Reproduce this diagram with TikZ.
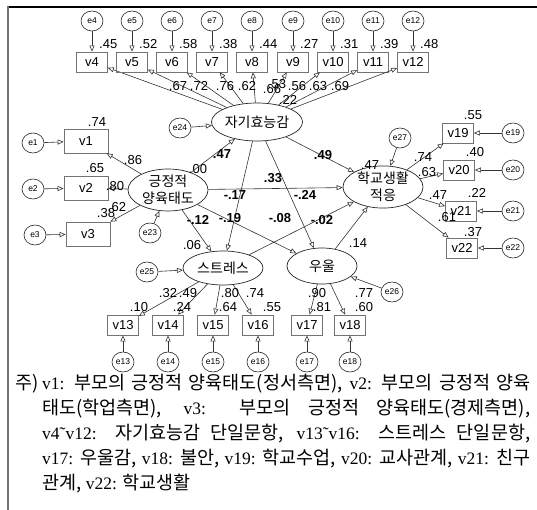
\documentclass[tikz,border=0pt]{standalone}
\usepackage{fontspec}
\setmainfont{Liberation Serif}
\newfontfamily\sansf{Liberation Sans}
\newfontfamily\kr{Noto Sans CJK KR}
\usetikzlibrary{arrows.meta,shapes.geometric}

\tikzset{
  obs/.style={draw=black!55, line width=0.7pt, minimum width=31pt, minimum height=20pt,
    inner sep=0pt, font=\sansf\fontsize{13}{13}\selectfont},
  obsw/.style={obs, minimum width=44pt, minimum height=24pt},
  lat/.style={draw=black!85, line width=0.7pt, ellipse, inner sep=0pt, align=center,
    font=\kr\fontsize{14}{17}\selectfont},
  err/.style={draw=black!85, line width=0.6pt, ellipse, minimum width=22pt, minimum height=20pt,
    inner sep=0pt, font=\sansf\fontsize{8.5}{8.5}\selectfont},
  arr/.style={draw=black!80, line width=0.6pt, -{Triangle[open,length=6pt,width=5pt]}},
  lab/.style={inner sep=0pt, font=\sansf\fontsize{13}{13}\selectfont},
  blab/.style={lab, font=\sansf\bfseries\fontsize{13}{13}\selectfont},
  notetext/.style={inner sep=0pt, anchor=base west, font=\fontsize{17.5}{17.5}\selectfont},
}
% Korean runs inside the note
\newcommand{\K}[1]{{\kr\fontsize{18.5}{18.5}\selectfont #1}}

\begin{document}
\begin{tikzpicture}[x=1pt,y=-1pt]
\useasboundingbox (0,0) rectangle (537,510);

% frame
\draw[line width=2pt, black] (8,7) -- (537,7);
\draw[line width=2pt, black!55] (8,6) -- (8,510);

% latent variables
\node[lat, minimum width=74pt, minimum height=38pt] (se) at (257,122) {자기효능감};
\node[lat, minimum width=80pt, minimum height=38pt] (pos) at (168,190) {긍정적\\양육태도};
\node[lat, minimum width=80pt, minimum height=36pt] (sa) at (383,187) {학교생활\\적응};
\node[lat, minimum width=80pt, minimum height=34pt] (st) at (223,268) {스트레스};
\node[lat, minimum width=70pt, minimum height=36pt] (dep) at (322,266) {우울};

% self-efficacy items v4..v12
\foreach \i/\x/\r in {4/92/.45,5/132/.52,6/172/.58,7/212/.38,8/252/.44,9/293/.27,10/333/.31,11/373/.39,12/413/.48}{
  \node[obs] (v\i) at (\x,62) {v\i};
  \node[err] (e\i) at (\x,21) {e\i};
  \draw[arr] (e\i) -- (v\i);
  \node[lab, anchor=west] at (\x+7,44) {\r};
  \draw[arr] (se) -- (v\i);
}
\foreach \t/\x/\y in {.67/178/86,.72/199/86,.76/225/86,.62/247/86,.66/272/89,.53/277/84,.56/297/86,.63/318/86,.69/340/86,.22/288/100}{
  \node[lab] at (\x,\y) {\t};
}

% parenting attitude items v1..v3
\node[obsw] (v1) at (86,141) {v1};
\node[obsw] (v2) at (86,188) {v2};
\node[obsw] (v3) at (88,234) {v3};
\node[err] (e1) at (33,143) {e1};
\node[err] (e2) at (33,189) {e2};
\node[err] (e3) at (35,235) {e3};
\foreach \i in {1,2,3}{
  \draw[arr] (e\i) -- (v\i);
  \draw[arr] (pos) -- (v\i);
}
\node[lab] at (97,122) {.74};
\node[lab] at (95,168) {.65};
\node[lab] at (106,213) {.38};
\node[lab] at (133,160) {.86};
\node[lab] at (115,186) {.80};
\node[lab] at (117,207) {.62};
\node[lab] at (198,169) {.00};

\node[err] (e23) at (150,233) {e23};
\draw[arr] (e23) -- (pos);
\node[err] (e24) at (180,128) {e24};
\draw[arr] (e24) -- (se);

% school adjustment items v19..v22
\node[err] (e27) at (400,138) {e27};
\draw[arr] (e27) -- (sa);
\node[lab] at (370,165) {.47};
\foreach \i/\x/\y in {19/458/133,20/459/170,21/461/211,22/462/248}{
  \node[obs] (v\i) at (\x,\y) {v\i};
  \node[err] (e\i) at (513,\y) {e\i};
  \draw[arr] (e\i) -- (v\i);
  \draw[arr] (sa) -- (v\i);
}
\foreach \t/\x/\y in {.55/473/115,.40/475/152,.22/477/193,.37/473/232,.74/423/157,.63/427/172,.47/438/195,.61/447/217}{
  \node[lab] at (\x,\y) {\t};
}

% stress and depression items
\node[err] (e25) at (147,272) {e25};
\draw[arr] (e25) -- (st);
\node[lab] at (192,245) {.06};
\node[err] (e26) at (392,292) {e26};
\draw[arr] (e26) -- (dep);
\node[lab] at (358,243) {.14};
\foreach \i/\x/\p in {13/123/st,14/168/st,15/213/st,16/258/st,17/307/dep,18/350/dep}{
  \node[obs] (v\i) at (\x,325) {v\i};
  \node[err] (e\i) at (\x,362) {e\i};
  \draw[arr] (e\i) -- (v\i);
  \draw[arr] (\p) -- (v\i);
}
\foreach \t/\x/\y in {.32/168/293,.49/188/293,.80/230/293,.74/255/293,.90/317/293,.77/364/293,
                      .10/139/307,.24/182/307,.64/228/307,.55/272/307,.81/322/307,.60/364/307}{
  \node[lab] at (\x,\y) {\t};
}

% structural paths
\draw[arr] (pos) -- (se);
\draw[arr] (pos) -- (sa);
\draw[arr] (pos) -- (st);
\draw[arr] (pos) -- (dep);
\draw[arr] (se) -- (st);
\draw[arr] (se) -- (dep);
\draw[arr] (se) -- (sa);
\draw[arr] (st) -- (sa);
\draw[arr] (dep) -- (sa);
\foreach \t/\x/\y in {.47/222/154,.33/273/178,.49/323/155,-.17/235/195,-.24/305/195,
                      -.12/198/220,-.19/230/218,-.08/280/218,-.02/322/220}{
  \node[blab] at (\x,\y) {\t};
}

% note
\node[notetext] (n0) at (15,389) {\K{주)}};
\node[notetext] (n1) at (42,389) {\makebox[488pt][s]{v1: \K{부모의 긍정적 양육태도(정서측면),} v2: \K{부모의 긍정적 양육}}};
\node[notetext] (n2) at (42,414) {\makebox[488pt][s]{\K{태도(학업측면),} v3: \K{부모의 긍정적 양육태도(경제측면),}}};
\node[notetext] (n3) at (42,439) {\makebox[488pt][s]{v4˜v12: \K{자기효능감 단일문항,} v13˜v16: \K{스트레스 단일문항,}}};
\node[notetext] (n4) at (42,464) {\makebox[488pt][s]{v17: \K{우울감,} v18: \K{불안,} v19: \K{학교수업,} v20: \K{교사관계,} v21: \K{친구}}};
\node[notetext] (n5) at (42,489) {\K{관계,} v22: \K{학교생활}};
\end{tikzpicture}
\end{document}
